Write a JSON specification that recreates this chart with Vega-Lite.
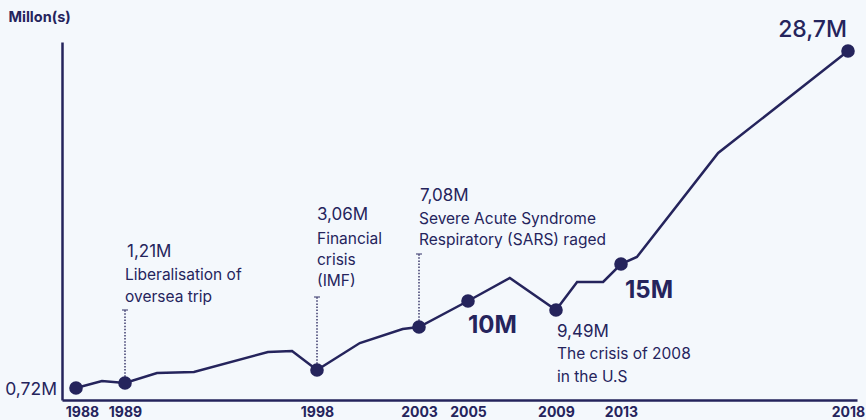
{
  "$schema": "https://vega.github.io/schema/vega-lite/v6.json",
  "autosize": {"type": "none"},
  "padding": {"left": 62, "top": 42, "right": 9, "bottom": 20},
  "width": 795,
  "height": 358,
  "background": "#f4f8fc",
  "config": {
    "view": {"stroke": null},
    "font": "Inter",
    "text": {"font": "Inter", "color": "#25245c"}
  },
  "datasets": {
    "series": [
      {"year": 1988, "value": 0.72},
      {"year": 1988.53, "value": 1.49},
      {"year": 1989, "value": 1.21},
      {"year": 1990.5, "value": 2.63},
      {"year": 1992.23, "value": 2.78},
      {"year": 1995.7, "value": 4.74},
      {"year": 1996.83, "value": 4.84},
      {"year": 1998, "value": 3.06},
      {"year": 2000.1, "value": 5.58},
      {"year": 2002.2, "value": 6.89},
      {"year": 2003, "value": 7.08},
      {"year": 2005, "value": 10},
      {"year": 2006.9, "value": 13.11},
      {"year": 2009, "value": 9.49},
      {"year": 2010.3, "value": 12.57},
      {"year": 2011.9, "value": 12.57},
      {"year": 2013, "value": 15},
      {"year": 2013.35, "value": 15.45},
      {"year": 2015.14, "value": 22.14},
      {"year": 2018, "value": 28.7}
    ],
    "milestones": [
      {"year": 1988, "value": 0.72, "label": "0,72M", "note": []},
      {"year": 1989, "value": 1.21, "label": "1,21M", "note": ["Liberalisation of", "oversea trip"]},
      {"year": 1998, "value": 3.06, "label": "3,06M", "note": ["Financial", "crisis", "(IMF)"]},
      {"year": 2003, "value": 7.08, "label": "7,08M", "note": ["Severe Acute Syndrome", "Respiratory (SARS) raged"]},
      {"year": 2005, "value": 10, "label": "10M", "note": []},
      {"year": 2009, "value": 9.49, "label": "9,49M", "note": ["The crisis of 2008", "in the U.S"]},
      {"year": 2013, "value": 15, "label": "15M", "note": []},
      {"year": 2018, "value": 28.7, "label": "28,7M", "note": []}
    ]
  },
  "encoding": {
    "x": {
      "field": "year",
      "type": "quantitative",
      "scale": {
        "domain": [1987, 1988, 1989, 1998, 2003, 2005, 2009, 2013, 2018, 2019],
        "range": [0, 14, 63, 255, 357, 406, 494, 559, 786, 795],
        "nice": false,
        "zero": false
      },
      "axis": {
        "values": [1988, 1989, 1998, 2003, 2005, 2009, 2013, 2018],
        "format": "d",
        "title": null,
        "grid": false,
        "ticks": false,
        "domain": true,
        "domainColor": "#25245c",
        "domainWidth": 2.5,
        "labelFont": "Inter",
        "labelFontSize": 14,
        "labelFontWeight": "bold",
        "labelColor": "#25245c",
        "labelPadding": 5,
        "labelBound": false,
        "labelFlush": false,
        "labelOverlap": false,
        "labelOffset": {"condition": {"test": "datum.value == 1988", "value": 6}, "value": 0}
      }
    },
    "y": {
      "field": "value",
      "type": "quantitative",
      "scale": {
        "domain": [0, 0.72, 1.21, 3.06, 7.08, 9.49, 10, 15, 28.7, 29.3],
        "range": [358, 346, 341, 328, 285, 268, 259, 222, 9, 0],
        "nice": false,
        "zero": false
      },
      "axis": {
        "title": "Millon(s)",
        "titleAngle": 0,
        "titleX": -54,
        "titleY": -25,
        "titleAlign": "left",
        "titleBaseline": "middle",
        "titleFont": "Inter",
        "titleFontSize": 14.5,
        "titleFontWeight": "bold",
        "titleColor": "#25245c",
        "labels": false,
        "ticks": false,
        "grid": false,
        "domain": true,
        "domainColor": "#25245c",
        "domainWidth": 2.5
      }
    }
  },
  "layer": [
    {
      "data": {"name": "series"},
      "mark": {"type": "line", "color": "#25245c", "strokeWidth": 2.5, "strokeJoin": "miter"}
    },
    {
      "data": {"name": "milestones"},
      "transform": [{"filter": "datum.year == 1989 || datum.year == 1998 || datum.year == 2003"}],
      "mark": {"type": "rule", "color": "#3b3a6c", "strokeWidth": 1.5, "strokeDash": [1.5, 1.6], "y2Offset": -73},
      "encoding": {"y2": {"field": "value"}}
    },
    {
      "data": {"name": "milestones"},
      "transform": [{"filter": "datum.year == 1989 || datum.year == 1998 || datum.year == 2003"}],
      "mark": {"type": "tick", "orient": "horizontal", "color": "#3b3a6c", "size": 6, "thickness": 1.5, "yOffset": -73}
    },
    {
      "data": {"name": "milestones"},
      "mark": {"type": "point", "filled": true, "opacity": 1, "color": "#25245c", "size": 185}
    },
    {
      "data": {"name": "milestones"},
      "transform": [{"filter": "datum.year == 1988"}],
      "mark": {"type": "text", "align": "right", "baseline": "alphabetic", "dx": -19, "dy": 7, "fontSize": 17.5},
      "encoding": {"text": {"field": "label"}}
    },
    {
      "data": {"name": "milestones"},
      "transform": [{"filter": "datum.year == 1989"}],
      "mark": {"type": "text", "align": "left", "baseline": "alphabetic", "dx": 2, "dy": -126, "fontSize": 17},
      "encoding": {"text": {"field": "label"}}
    },
    {
      "data": {"name": "milestones"},
      "transform": [{"filter": "datum.year == 1989"}],
      "mark": {"type": "text", "align": "left", "baseline": "alphabetic", "dx": 0, "dy": -103, "fontSize": 15.5, "lineHeight": 21.5},
      "encoding": {"text": {"field": "note"}}
    },
    {
      "data": {"name": "milestones"},
      "transform": [{"filter": "datum.year == 1998"}],
      "mark": {"type": "text", "align": "left", "baseline": "alphabetic", "dx": 0, "dy": -150, "fontSize": 17},
      "encoding": {"text": {"field": "label"}}
    },
    {
      "data": {"name": "milestones"},
      "transform": [{"filter": "datum.year == 1998"}],
      "mark": {"type": "text", "align": "left", "baseline": "alphabetic", "dx": 0, "dy": -126, "fontSize": 15.5, "lineHeight": 21},
      "encoding": {"text": {"field": "note"}}
    },
    {
      "data": {"name": "milestones"},
      "transform": [{"filter": "datum.year == 2003"}],
      "mark": {"type": "text", "align": "left", "baseline": "alphabetic", "dx": 1, "dy": -126, "fontSize": 17},
      "encoding": {"text": {"field": "label"}}
    },
    {
      "data": {"name": "milestones"},
      "transform": [{"filter": "datum.year == 2003"}],
      "mark": {"type": "text", "align": "left", "baseline": "alphabetic", "dx": 0, "dy": -103, "fontSize": 15.5, "lineHeight": 20.5},
      "encoding": {"text": {"field": "note"}}
    },
    {
      "data": {"name": "milestones"},
      "transform": [{"filter": "datum.year == 2005"}],
      "mark": {"type": "text", "align": "left", "baseline": "alphabetic", "dx": 0, "dy": 32, "fontSize": 24, "fontWeight": "bold"},
      "encoding": {"text": {"field": "label"}}
    },
    {
      "data": {"name": "milestones"},
      "transform": [{"filter": "datum.year == 2009"}],
      "mark": {"type": "text", "align": "left", "baseline": "alphabetic", "dx": 1, "dy": 27, "fontSize": 17},
      "encoding": {"text": {"field": "label"}}
    },
    {
      "data": {"name": "milestones"},
      "transform": [{"filter": "datum.year == 2009"}],
      "mark": {"type": "text", "align": "left", "baseline": "alphabetic", "dx": 1, "dy": 49, "fontSize": 15.5, "lineHeight": 22.5},
      "encoding": {"text": {"field": "note"}}
    },
    {
      "data": {"name": "milestones"},
      "transform": [{"filter": "datum.year == 2013"}],
      "mark": {"type": "text", "align": "left", "baseline": "alphabetic", "dx": 4, "dy": 34, "fontSize": 24, "fontWeight": "bold"},
      "encoding": {"text": {"field": "label"}}
    },
    {
      "data": {"name": "milestones"},
      "transform": [{"filter": "datum.year == 2018"}],
      "mark": {"type": "text", "align": "right", "baseline": "alphabetic", "dx": -1, "dy": -14, "fontSize": 23, "fontWeight": 500},
      "encoding": {"text": {"field": "label"}}
    }
  ]
}
